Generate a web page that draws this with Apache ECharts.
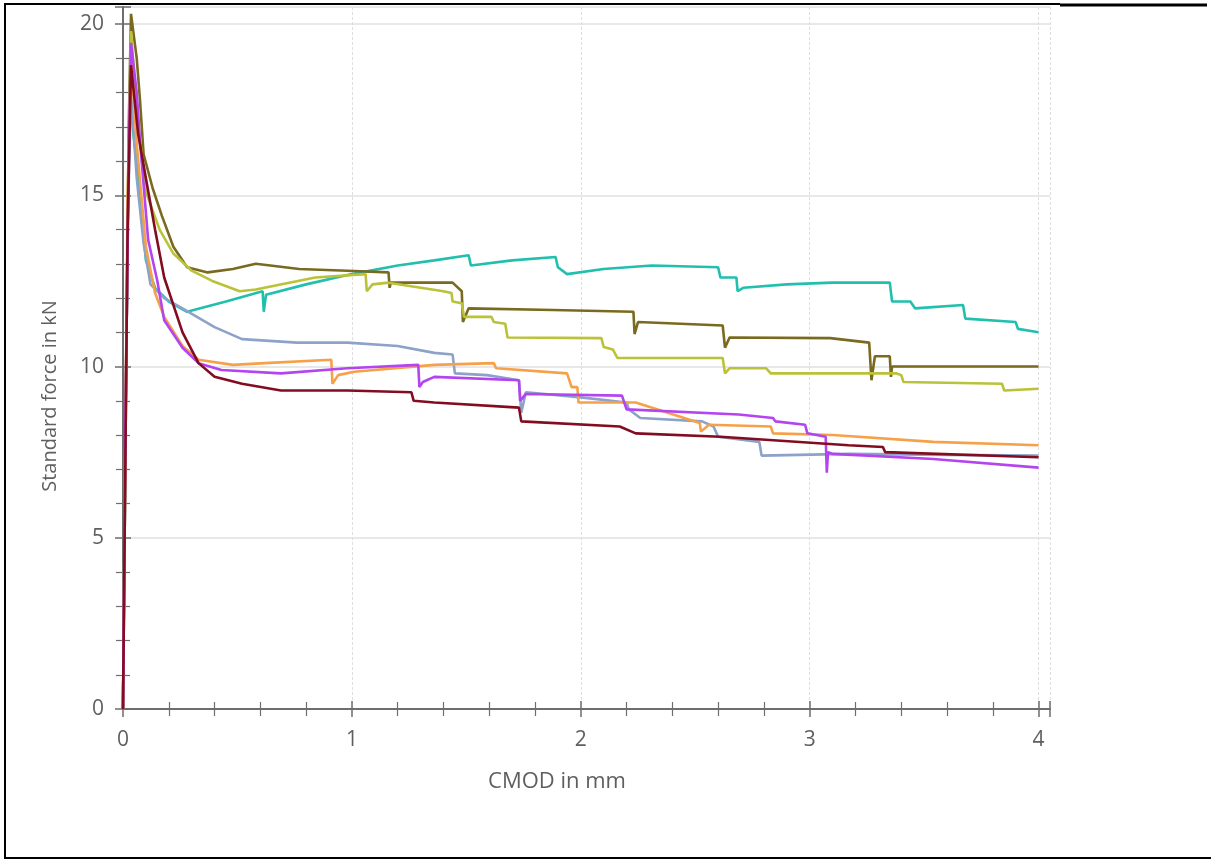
<!DOCTYPE html>
<html>
<head>
<meta charset="utf-8">
<title>Standard force vs CMOD</title>
<script src="https://cdn.jsdelivr.net/npm/echarts@6/dist/echarts.min.js"></script>
<style>
  html, body { margin: 0; padding: 0; background: #ffffff; }
  #chart { width: 1211px; height: 860px; }
</style>
</head>
<body>
<div id="chart"></div>
<script>
// Force–CMOD curves of seven beam specimens: [CMOD in mm, force in kN]
const specimenTeal = [[0,0],[0.01,7],[0.02,14],[0.03,17.8],[0.05,16.5],[0.074,15.1],[0.1,13.1],[0.14,12.3],[0.2,11.9],[0.28,11.6],[0.45,11.9],[0.61,12.2],[0.615,11.6],[0.625,12.1],[0.8,12.4],[1.0,12.7],[1.2,12.95],[1.36,13.1],[1.51,13.25],[1.52,12.95],[1.7,13.1],[1.89,13.2],[1.9,12.9],[1.94,12.7],[2.1,12.85],[2.31,12.95],[2.6,12.9],[2.61,12.6],[2.68,12.6],[2.685,12.2],[2.71,12.3],[2.9,12.4],[3.1,12.45],[3.35,12.45],[3.36,11.9],[3.44,11.9],[3.46,11.7],[3.67,11.8],[3.68,11.4],[3.9,11.3],[3.91,11.1],[4.0,11.0]];
const specimenOlive = [[0,0],[0.01,8],[0.025,17],[0.035,20.3],[0.06,19.0],[0.074,17.8],[0.09,16.2],[0.13,15.2],[0.17,14.4],[0.22,13.5],[0.28,12.9],[0.37,12.75],[0.48,12.85],[0.58,13.0],[0.77,12.85],[0.98,12.8],[1.16,12.75],[1.165,12.3],[1.17,12.45],[1.44,12.45],[1.48,12.2],[1.485,11.3],[1.51,11.7],[1.88,11.65],[2.23,11.6],[2.235,10.95],[2.25,11.3],[2.62,11.2],[2.63,10.55],[2.65,10.85],[3.09,10.83],[3.26,10.7],[3.27,9.6],[3.285,10.3],[3.35,10.3],[3.355,9.7],[3.36,10.0],[4.0,10.0]];
const specimenLime = [[0,0],[0.01,8],[0.025,16],[0.035,19.8],[0.06,17.5],[0.1,15.1],[0.16,14.0],[0.22,13.3],[0.3,12.8],[0.39,12.5],[0.51,12.2],[0.58,12.25],[0.84,12.6],[1.06,12.7],[1.065,12.2],[1.09,12.4],[1.16,12.45],[1.4,12.2],[1.435,12.15],[1.44,11.9],[1.48,11.85],[1.49,11.45],[1.61,11.45],[1.62,11.3],[1.67,11.25],[1.68,10.85],[2.09,10.83],[2.1,10.57],[2.14,10.5],[2.16,10.25],[2.62,10.25],[2.63,9.8],[2.65,9.95],[2.81,9.95],[2.83,9.8],[3.38,9.8],[3.4,9.75],[3.41,9.55],[3.84,9.5],[3.85,9.3],[4.0,9.35]];
const specimenSlate = [[0,0],[0.01,7],[0.02,14],[0.035,18.0],[0.06,15.5],[0.09,13.6],[0.12,12.4],[0.18,12.0],[0.26,11.7],[0.31,11.5],[0.4,11.15],[0.52,10.8],[0.76,10.7],[0.98,10.7],[1.2,10.6],[1.36,10.4],[1.44,10.35],[1.45,9.8],[1.59,9.75],[1.73,9.6],[1.74,8.65],[1.76,9.25],[2.0,9.1],[2.2,8.95],[2.21,8.75],[2.26,8.5],[2.53,8.4],[2.58,8.25],[2.6,7.95],[2.78,7.8],[2.79,7.4],[3.17,7.45],[3.6,7.42],[4.0,7.4]];
const specimenOrange = [[0,0],[0.01,7],[0.02,15],[0.035,19.0],[0.06,16.5],[0.1,13.5],[0.14,12.15],[0.18,11.45],[0.26,10.6],[0.33,10.2],[0.48,10.05],[0.62,10.1],[0.91,10.2],[0.915,9.5],[0.94,9.75],[1.01,9.85],[1.36,10.05],[1.62,10.1],[1.63,9.95],[1.94,9.8],[1.96,9.4],[1.985,9.4],[1.99,8.95],[2.24,8.95],[2.52,8.35],[2.525,8.1],[2.56,8.3],[2.83,8.25],[2.84,8.05],[3.1,8.0],[3.54,7.8],[4.0,7.7]];
const specimenViolet = [[0,0],[0.01,8],[0.025,16],[0.035,19.45],[0.06,18.0],[0.074,16.6],[0.11,13.7],[0.15,12.5],[0.18,11.35],[0.26,10.55],[0.33,10.1],[0.43,9.9],[0.69,9.8],[0.98,9.95],[1.29,10.05],[1.295,9.4],[1.31,9.55],[1.36,9.7],[1.73,9.6],[1.735,9.0],[1.76,9.2],[2.18,9.15],[2.2,8.75],[2.69,8.6],[2.84,8.5],[2.85,8.4],[2.98,8.3],[2.99,8.05],[3.07,7.95],[3.075,6.9],[3.08,7.5],[3.1,7.45],[3.54,7.3],[4.0,7.05]];
const specimenMaroon = [[0,0],[0.01,7],[0.02,14],[0.035,18.8],[0.066,16.8],[0.1,15.5],[0.14,14.0],[0.18,12.6],[0.26,11.0],[0.33,10.1],[0.4,9.7],[0.52,9.5],[0.69,9.3],[0.98,9.3],[1.26,9.25],[1.27,9.0],[1.36,8.95],[1.73,8.8],[1.74,8.4],[2.17,8.25],[2.24,8.05],[2.61,7.95],[3.17,7.7],[3.32,7.65],[3.33,7.5],[4.0,7.35]];

const seriesList = [
  { name: 'Teal', data: specimenTeal, color: '#22bfae' },
  { name: 'Olive', data: specimenOlive, color: '#7a6a1f' },
  { name: 'Lime', data: specimenLime, color: '#bac238' },
  { name: 'Slate', data: specimenSlate, color: '#8da2c9' },
  { name: 'Orange', data: specimenOrange, color: '#f6a14a' },
  { name: 'Violet', data: specimenViolet, color: '#b444f0' },
  { name: 'Maroon', data: specimenMaroon, color: '#820c20' }
];

const xLabelTicks = [0, 1, 2, 3, 4];
const yLabelTicks = [0, 5, 10, 15, 20];
const xAxisTitle = 'CMOD in mm';
const yAxisTitle = 'Standard force in kN';

const FONT = '"Open Sans", "Noto Sans", sans-serif';
const AXIS_COLOR = '#6e6e6e';
const LABEL_COLOR = '#5f5f5f';

const chart = echarts.init(document.getElementById('chart'), null, { renderer: 'canvas' });

// main axes carry the line, labels, grid and outward ticks;
// the overlay axes add the inward half so the ticks cross the axis line
function xAxisBase(inside) {
  return {
    type: 'value', position: 'bottom', min: 0, max: 4.05, interval: 1,
    axisLine: { show: !inside, onZero: false, lineStyle: { color: AXIS_COLOR, width: 2 } },
    axisTick: { show: true, inside: inside, length: 8, lineStyle: { color: AXIS_COLOR, width: 1.5 } },
    minorTick: { show: true, splitNumber: 5, length: 7, lineStyle: { color: AXIS_COLOR, width: 1.2 } },
    axisLabel: {
      show: !inside, margin: 21, color: LABEL_COLOR, fontSize: 21, fontFamily: FONT,
      formatter: v => (xLabelTicks.indexOf(v) >= 0 ? String(v) : '')
    },
    splitLine: { show: !inside, lineStyle: { color: '#dedede', width: 1, type: [3, 2] } },
    minorSplitLine: { show: false }
  };
}
function yAxisBase(inside) {
  return {
    type: 'value', position: 'left', min: 0, max: 20.5, interval: 5,
    axisLine: { show: !inside, onZero: false, lineStyle: { color: AXIS_COLOR, width: 2 } },
    axisTick: { show: true, inside: inside, length: 8, lineStyle: { color: AXIS_COLOR, width: 1.5 } },
    minorTick: { show: true, splitNumber: 5, length: 7, lineStyle: { color: AXIS_COLOR, width: 1.2 } },
    axisLabel: {
      show: !inside, margin: 19, color: LABEL_COLOR, fontSize: 21, fontFamily: FONT,
      formatter: v => (yLabelTicks.indexOf(v) >= 0 ? String(v) : '')
    },
    splitLine: { show: !inside, lineStyle: { color: '#e8e8e8', width: 2 } },
    minorSplitLine: { show: false }
  };
}

const option = {
  backgroundColor: '#ffffff',
  animation: false,
  grid: { left: 123, right: 161, top: 7, bottom: 151, containLabel: false },
  xAxis: [xAxisBase(false), xAxisBase(true)],
  yAxis: [yAxisBase(false), yAxisBase(true)],
  series: seriesList.map(s => ({
    name: s.name,
    type: 'line',
    xAxisIndex: 0,
    yAxisIndex: 0,
    data: s.data,
    showSymbol: false,
    symbol: 'none',
    smooth: false,
    lineStyle: { color: s.color, width: 2.6 },
    itemStyle: { color: s.color }
  })),
  graphic: [
    { type: 'text', x: 50, y: 396, rotation: Math.PI / 2,
      style: { text: yAxisTitle, fill: LABEL_COLOR, font: '20px ' + FONT, textAlign: 'center', textVerticalAlign: 'middle' } },
    { type: 'text', x: 557, y: 782,
      style: { text: xAxisTitle, fill: LABEL_COLOR, font: '22px ' + FONT, textAlign: 'center', textVerticalAlign: 'middle' } },
    // outer frame
    { type: 'line', shape: { x1: 5, y1: 4, x2: 1060, y2: 4 }, style: { stroke: '#000', lineWidth: 2 } },
    { type: 'line', shape: { x1: 1060, y1: 5, x2: 1207, y2: 5 }, style: { stroke: '#000', lineWidth: 3 } },
    { type: 'line', shape: { x1: 5, y1: 3, x2: 5, y2: 859 }, style: { stroke: '#000', lineWidth: 2 } },
    { type: 'line', shape: { x1: 4, y1: 858, x2: 1211, y2: 858 }, style: { stroke: '#000', lineWidth: 2 } }
  ]
};

chart.setOption(option);
</script>
</body>
</html>
